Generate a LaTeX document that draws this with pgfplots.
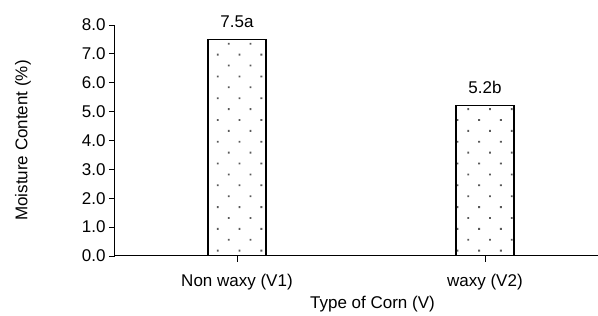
\documentclass[border=0pt]{standalone}
\usepackage{fontspec}
\setmainfont{Liberation Sans}
\usepackage{pgfplots}
\pgfplotsset{compat=1.18}
\usetikzlibrary{patterns.meta}
\begin{document}
\begin{tikzpicture}
\useasboundingbox (-115pt,-60pt) rectangle (483pt,256pt);
\begin{axis}[
  scale only axis, width=483pt, height=231pt,
  xmin=-0.492, xmax=1.456, ymin=0, ymax=8,
  axis x line*=bottom, axis y line*=left,
  axis line style={line width=1pt},
  xtick={0,1}, xticklabels={Non waxy (V1), waxy (V2)},
  ytick={0,1,2,3,4,5,6,7,8},
  yticklabel style={/pgf/number format/.cd, fixed, fixed zerofill, precision=1, assume math mode=true},
  xticklabel style={yshift=-9pt},
  tick align=outside, major tick length=6pt,
  tick style={black, line width=0.8pt},
  every tick label/.append style={font=\fontsize{17}{20}\selectfont},
  label style={font=\fontsize{17}{20}\selectfont},
  xlabel={Type of Corn (V)}, ylabel={Moisture Content (\%)},
  xlabel style={xshift=16pt, yshift=1pt},
  ylabel style={yshift=44pt},
  nodes near coords style={font=\fontsize{17}{20}\selectfont, yshift=8pt},
]
\addplot[ybar, bar width=58pt, draw=black, line width=1.2pt,
  pattern={Dots[angle=45,distance=15.4pt,radius=1.3pt]}, pattern color=black!65,
  nodes near coords, point meta=explicit symbolic]
  table[meta=label] {
x y label
0 7.5 7.5a
1 5.2 5.2b
};
\end{axis}
\end{tikzpicture}
\end{document}
